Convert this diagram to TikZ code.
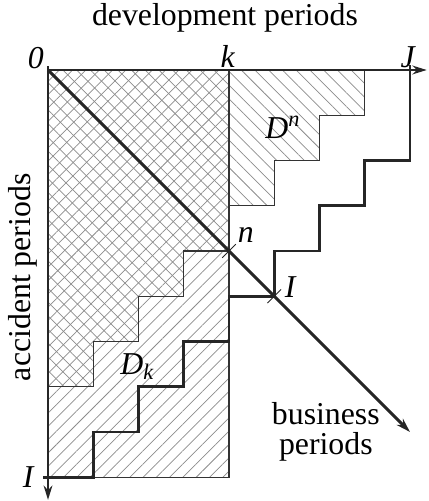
\documentclass[tikz,border=0pt]{standalone}
\usepackage{fontspec}
\setmainfont{Liberation Serif}
\usetikzlibrary{arrows.meta,patterns.meta,positioning}
\tikzset{
  lbl/.style={font=\fontsize{20}{19}\selectfont,inner sep=0pt,align=center},
  idxlbl/.style={lbl,font=\fontsize{20}{19}\selectfont\itshape},
  thickline/.style={line width=1.8pt,black!85},
  axisarrow/.style={thickline,-{Stealth[length=9pt,width=5.5pt]}},
  thinedge/.style={line width=0.75pt,black!80},
  tickmark/.style={line width=0.6pt,black!85},
  nefill/.style={pattern={Lines[angle=45,distance=5.9pt,line width=0.45pt]},pattern color=black!45},
  nwfill/.style={pattern={Lines[angle=-45,distance=6.1pt,line width=0.45pt]},pattern color=black!45},
}

\begin{document}
\begin{tikzpicture}[x=1cm,y=-1cm]
  \useasboundingbox (-1.061,-1.547) rectangle (8.398,9.525);
  % key points of the triangle
  \coordinate (O) at (0,0);
  \coordinate (K) at (4,0);
  \coordinate (J) at (8,0);
  \coordinate (N) at (4,4);
  \coordinate (Im) at (5,5);
  \coordinate (Ib) at (0,9);
  \coordinate (xEnd) at (8.37,0);
  \coordinate (yEnd) at (0,9.5);
  \coordinate (bEnd) at (8,8);
  % shaded sets
  \fill[nefill] (0,7) -| (1,6) -| (2,5) -| (3,4) -| (4,9) -- (0,9) -- cycle;
  \foreach \hatch in {nefill,nwfill}
    \fill[\hatch] (O) -- (K) -- (N) -- (3,4) |- (2,5) |- (1,6) |- (0,7) -- cycle;
  \fill[nwfill] (K) -- (7,0) |- (6,1) |- (5,2) |- (4,3) -- cycle;
  % thin borders
  \draw[thinedge] (K) -- (4,9) -- (Ib);
  \draw[thinedge] (N) -- (3,4) |- (2,5) |- (1,6) |- (0,7);
  \draw[thinedge] (7,0) |- (6,1) |- (5,2) |- (4,3);
  % axes and business line
  \draw[axisarrow] (O) -- (xEnd);
  \draw[axisarrow] (O) -- (yEnd);
  \draw[axisarrow] (O) -- (bEnd);
  \draw[thickline] (0,-0.08) -- (O);
  % staircase of the last business period
  \draw[thickline] (8,-0.1) -- (8,2) -| (7,3) -| (6,4) -| (5,5) -| (4,6)
    -| (3,7) -| (2,8) -| (1,9) -- (-0.12,9);
  \draw[tickmark] (3.85,4.15) -- (4.15,3.85);
  \draw[tickmark] (4.85,5.15) -- (5.15,4.85);
  % labels
  \node[lbl] (lDev) at (3.91,-1.15) {development periods};
  \node[lbl,rotate=90] (lAcc) at (-0.56,4.58) {accident periods};
  \node[lbl] (lBus) at (6.14,7.99) {business\\periods};
  \node[idxlbl] (lZero) at (-0.27,-0.27) {0};
  \node[idxlbl] (lK) at (3.97,-0.29) {k};
  \node[idxlbl] (lJ) at (7.95,-0.29) {J};
  \node[idxlbl] (lN) at (4.37,3.65) {n};
  \node[idxlbl] (lIm) at (5.35,4.8) {I};
  \node[idxlbl] (lIb) at (-0.44,9.0) {I};
  \node[idxlbl] (lDn) at (5.19,1.26) {D\textsuperscript{n}};
  \node[idxlbl] (lDk) at (1.97,6.56) {D\textsubscript{k}};
\end{tikzpicture}
\end{document}
